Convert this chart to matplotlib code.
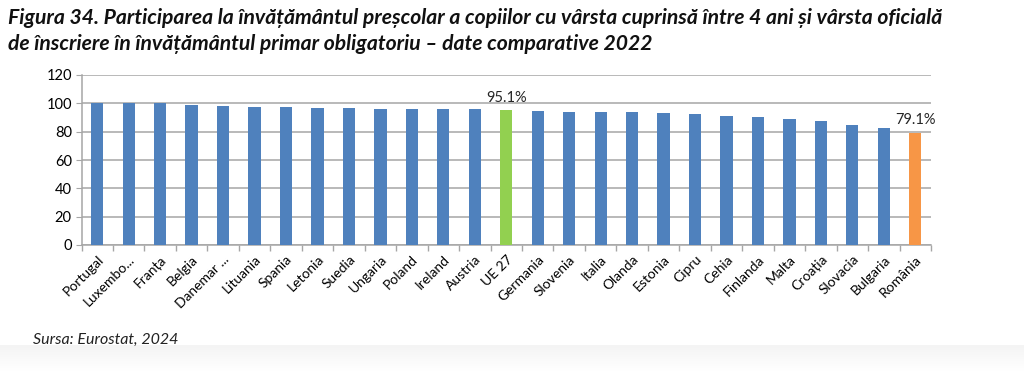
#!/usr/bin/env python3
"""Preschool participation (age 4 to compulsory primary) - EU comparison 2022."""

import matplotlib

matplotlib.use("Agg")
import matplotlib.pyplot as plt
import numpy as np

countries = [
    "Portugal", "Luxembo...", "Franța", "Belgia", "Danemar ...", "Lituania",
    "Spania", "Letonia", "Suedia", "Ungaria", "Poland", "Ireland", "Austria",
    "UE 27", "Germania", "Slovenia", "Italia", "Olanda", "Estonia", "Cipru",
    "Cehia", "Finlanda", "Malta", "Croația", "Slovacia", "Bulgaria", "România",
]
values = [
    100.0, 100.0, 100.0, 98.7, 98.0, 97.7,
    97.2, 96.8, 96.8, 96.3, 96.3, 96.1, 95.8,
    95.1, 94.9, 94.2, 94.2, 93.7, 93.2, 92.5,
    91.1, 90.7, 89.2, 87.6, 84.5, 82.9, 79.1,
]
labelled = {"UE 27": "95.1%", "România": "79.1%"}

BLUE = "#4F81BD"
GREEN = "#92D050"
ORANGE = "#F79646"
GRID = "#A6A6A6"

plt.rcParams["font.family"] = ["Lato", "DejaVu Sans"]

fig = plt.figure(figsize=(10.24, 3.71), dpi=100)

# faint grey fade at the bottom of the page
bg = fig.add_axes([0, 0, 1, 0.07], zorder=-5)
grad = np.linspace(0, 1, 50).reshape(-1, 1)
bg.imshow(grad, aspect="auto", cmap=matplotlib.colors.LinearSegmentedColormap.from_list(
    "fade", ["#F4F4F4", "#FFFFFF"]), extent=[0, 1, 0, 1])
bg.axis("off")

ax = fig.add_axes([81.5 / 1024, 1 - 245 / 371, (931 - 81.5) / 1024, 170 / 371])

colors = []
for c in countries:
    if c == "UE 27":
        colors.append(GREEN)
    elif c == "România":
        colors.append(ORANGE)
    else:
        colors.append(BLUE)

x = np.arange(len(countries))
ax.bar(x, values, width=0.39, color=colors, zorder=3)

for i, (c, v) in enumerate(zip(countries, values)):
    if c in labelled:
        ax.text(i, v + 4, labelled[c], ha="center", va="bottom", fontsize=10.5, color="#262626")

ax.set_ylim(0, 120)
ax.set_xlim(-0.5, len(countries) - 0.5)
ax.set_yticks(range(0, 121, 20))
ax.yaxis.grid(True, color=GRID, linewidth=1.1, zorder=0)
ax.tick_params(axis="y", length=4, color=GRID, labelsize=10.5, labelcolor="#000000", pad=3)

ax.set_xticks(x)
ax.set_xticklabels(countries, rotation=45, ha="right", rotation_mode="anchor", fontsize=10)
ax.set_xticks(np.arange(-0.5, len(countries)), minor=True)
ax.tick_params(axis="x", which="major", length=0, pad=6)
ax.tick_params(axis="x", which="minor", length=4, color=GRID, width=1)

for side in ("top", "right"):
    ax.spines[side].set_visible(False)
for side in ("left", "bottom"):
    ax.spines[side].set_color(GRID)
    ax.spines[side].set_linewidth(1.1)

fig.text(8 / 1024, 1 - 18 / 371,
         "Figura 34. Participarea la învățământul preșcolar a copiilor cu vârsta cuprinsă între 4 ani și vârsta oficială",
         fontsize=15.2, fontweight="bold", fontstyle="italic", va="center", ha="left", color="#111111")
fig.text(8 / 1024, 1 - 44 / 371,
         "de înscriere în învățământul primar obligatoriu – date comparative 2022",
         fontsize=15.2, fontweight="bold", fontstyle="italic", va="center", ha="left", color="#111111")
fig.text(33 / 1024, 1 - 340 / 371, "Sursa: Eurostat, 2024",
         fontsize=11.5, fontstyle="italic", va="center", ha="left", color="#222222")

fig.savefig("out.png", dpi=100)
